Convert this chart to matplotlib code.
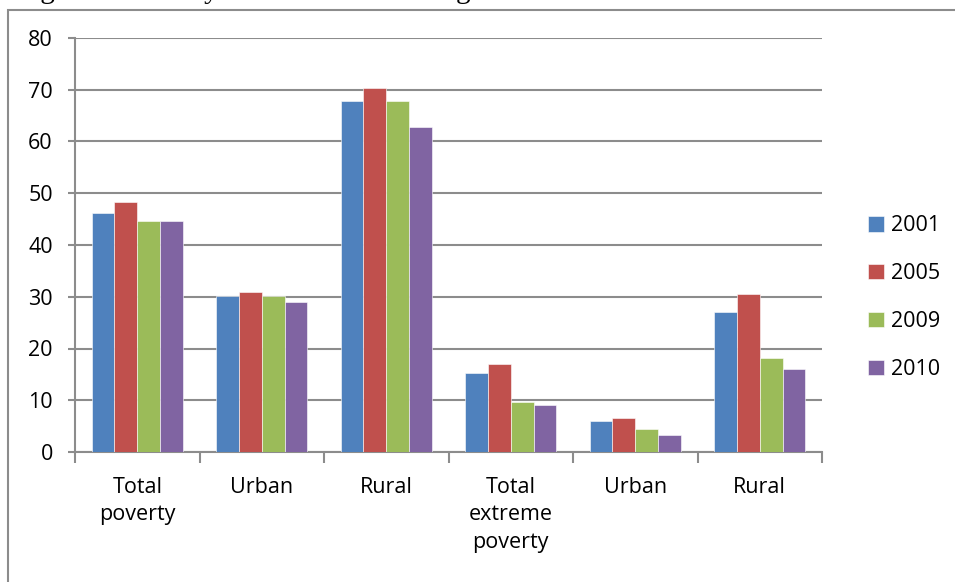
import numpy as np
import matplotlib.pyplot as plt
from matplotlib.patches import Rectangle

categories = ["Total\npoverty", "Urban", "Rural", "Total\nextreme\npoverty", "Urban", "Rural"]
years = ["2001", "2005", "2009", "2010"]
v2001 = [46.2, 30.1, 67.8, 15.2, 6.0, 27.0]
v2005 = [48.4, 31.0, 70.3, 17.1, 6.5, 30.5]
v2009 = [44.6, 30.1, 67.8, 9.7, 4.5, 18.1]
v2010 = [44.6, 29.0, 62.8, 9.0, 3.3, 16.0]
colors = ["#4F81BD", "#C0504D", "#9BBB59", "#8064A2"]

plt.rcParams['font.family'] = ['Open Sans', 'DejaVu Sans']

fig = plt.figure(figsize=(9.55, 5.82), dpi=100)
W, H = 955, 582

# caption line, only its lower edge shows at the top
fig.text(16 / W, 1.0 + 2 / H, "Figure 1. Poverty indicators in Nicaragua 2001-2010",
         family="Liberation Serif", fontsize=21, va="baseline", ha="left")

# chart frame
fig.patches.append(Rectangle((8 / W, -0.1), 1.1, 1.1 - 10 / H,
                             transform=fig.transFigure, fill=False,
                             edgecolor="#8c8c8c", linewidth=1.5))

ax = fig.add_axes([75 / W, 1 - 452 / H, (822 - 75) / W, (452 - 38) / H])

x = np.arange(len(categories))
width = 0.183
for i, (vals, c) in enumerate(zip([v2001, v2005, v2009, v2010], colors)):
    ax.bar(x + (i - 1.5) * width, vals, width, color=c, label=years[i],
           edgecolor="white", linewidth=0.4, zorder=3)

ax.set_xlim(-0.5, len(categories) - 0.5)
ax.set_ylim(0, 80)
ax.set_yticks(range(0, 81, 10))
ax.yaxis.grid(True, color="#8c8c8c", linewidth=1.5, zorder=0)
ax.set_xticks(x)
ax.set_xticklabels(categories, fontsize=15.5, linespacing=1.4)
ax.set_xticks(np.arange(-0.5, len(categories), 1), minor=True)
ax.tick_params(axis="x", which="major", length=0, pad=18)
ax.tick_params(axis="x", which="minor", length=8, color="#8c8c8c", width=1.5)
ax.tick_params(axis="y", length=5, color="#8c8c8c", width=1.5, labelsize=15.5, pad=11)
for s in ["top", "right"]:
    ax.spines[s].set_visible(False)
for s in ["left", "bottom"]:
    ax.spines[s].set_color("#8c8c8c")
    ax.spines[s].set_linewidth(1.5)

ax.legend(loc="center left", bbox_to_anchor=(1.035, 0.373), frameon=False,
          fontsize=15.5, handlelength=0.75, handleheight=0.75, labelspacing=1.25,
          handletextpad=0.35)

fig.savefig("out.png", dpi=100)
